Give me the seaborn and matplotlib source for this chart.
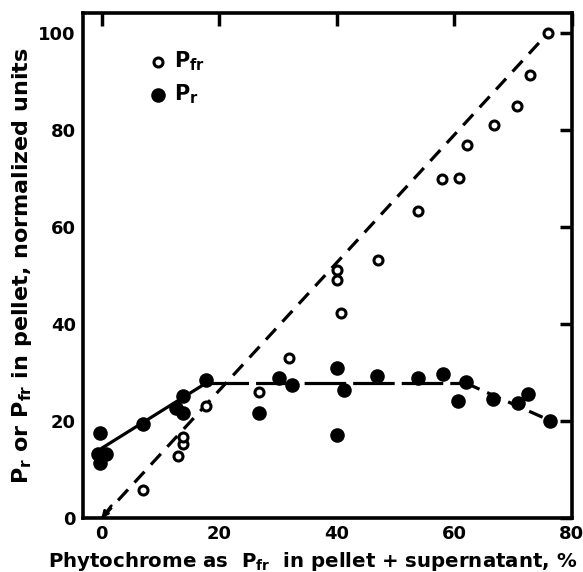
import matplotlib
matplotlib.use("Agg")
import matplotlib.pyplot as plt
import seaborn as sns
import pandas as pd

# ---- data ----
pfr_x = [7.1, 13.0, 13.9, 13.9, 17.8, 26.8, 31.8, 40.1, 40.1, 40.8, 47.0, 53.8,
         57.9, 60.8, 62.1, 66.8, 70.6, 72.9, 76.0]
pfr_y = [5.8, 12.8, 15.3, 16.8, 23.1, 26.0, 32.9, 51.1, 49.1, 42.3, 53.2, 63.2,
         69.9, 70.0, 76.9, 81.0, 84.9, 91.3, 100.0]

pr_x = [-0.3, -0.6, 0.8, -0.2, 7.1, 12.7, 13.9, 13.9, 17.7, 26.8, 30.2, 32.4,
        40.1, 41.2, 40.1, 46.9, 53.9, 58.0, 60.7, 62.0, 66.6, 70.9, 72.6, 76.3]
pr_y = [17.5, 13.3, 13.3, 11.3, 19.4, 22.6, 21.6, 25.2, 28.4, 21.6, 28.8, 27.4,
        31.0, 26.4, 17.1, 29.3, 28.8, 29.7, 24.1, 28.1, 24.5, 23.8, 25.6, 20.1]

# fitted lines
pfr_fit_x = [0, 76.0]
pfr_fit_y = [0, 100.0]
pr_rise_x = [0, 18.0]
pr_rise_y = [14.4, 28.0]
pr_flat_x = [18.0, 62.0]
pr_flat_y = [27.8, 27.8]
pr_fall_x = [62.0, 76.3]
pr_fall_y = [27.8, 20.1]

x_ticks = [0, 20, 40, 60, 80]
y_ticks = [0, 20, 40, 60, 80, 100]

# ---- styling ----
sns.set_style("white")
plt.rcParams['font.family'] = ['DejaVu Sans']
plt.rcParams['font.weight'] = 'bold'
plt.rcParams['mathtext.fontset'] = 'dejavusans'
plt.rcParams['mathtext.default'] = 'bf'
plt.rcParams['text.color'] = 'black'
plt.rcParams['axes.labelcolor'] = 'black'
plt.rcParams['xtick.color'] = 'black'
plt.rcParams['ytick.color'] = 'black'

fig = plt.figure(figsize=(5.83, 5.72), dpi=100)
ax = fig.add_axes([0.142, 0.094, 0.839, 0.883])

df_pfr = pd.DataFrame({"x": pfr_x, "y": pfr_y})
df_pr = pd.DataFrame({"x": pr_x, "y": pr_y})

# lines
sns.lineplot(x=pfr_fit_x, y=pfr_fit_y, ax=ax, color="black", lw=2.3,
             linestyle=(0, (4.6, 3.0)), legend=False, zorder=1)
sns.lineplot(x=pr_rise_x, y=pr_rise_y, ax=ax, color="black", lw=2.3,
             legend=False, zorder=1)
sns.lineplot(x=pr_flat_x, y=pr_flat_y, ax=ax, color="black", lw=2.3,
             linestyle=(0, (13, 2.2)), legend=False, zorder=1)
sns.lineplot(x=pr_fall_x, y=pr_fall_y, ax=ax, color="black", lw=2.3,
             linestyle=(0, (4.6, 2.6)), legend=False, zorder=1)

# arrow at origin end of the Pfr line
ax.annotate("", xy=(pfr_fit_x[0], pfr_fit_y[0]), xytext=(7, 9),
            textcoords="offset points",
            arrowprops=dict(arrowstyle="-|>", color="black", lw=2.0,
                            mutation_scale=9, shrinkA=0, shrinkB=0))

# points
sns.scatterplot(data=df_pfr, x="x", y="y", ax=ax, s=42, marker="o",
                facecolor="white", edgecolor="black", linewidth=2.2,
                label=r"$P_{fr}$", zorder=3)
sns.scatterplot(data=df_pr, x="x", y="y", ax=ax, s=110, marker="o",
                color="black", edgecolor="black", linewidth=0,
                label=r"$P_{r}$", zorder=3)

ax.set_xlim(-3.2, 80)
ax.set_ylim(0, 104)
ax.set_xticks(x_ticks)
ax.set_yticks(y_ticks)
ax.set_xticklabels([str(t) for t in x_ticks], fontsize=13, fontweight='bold')
ax.set_yticklabels([str(t) for t in y_ticks], fontsize=13, fontweight='bold')
ax.tick_params(direction="in", length=9, width=2.5, top=True, right=True,
               pad=5, colors="black")
for sp in ax.spines.values():
    sp.set_linewidth(2.6)
    sp.set_color("black")

ax.set_xlabel(r"Phytochrome as  $P_{fr}$  in pellet + supernatant, %",
              fontsize=14.2, fontweight='bold')
ax.xaxis.set_label_coords(0.469, -0.063)
ax.set_ylabel(r"$P_{r}$ or $P_{fr}$ in pellet, normalized units",
              fontsize=16, fontweight='bold')
ax.yaxis.set_label_coords(-0.1, 0.5)

leg = ax.legend(loc="upper left", bbox_to_anchor=(0.115, 0.945), frameon=False,
                fontsize=15, handletextpad=0.3, labelspacing=0.45,
                borderaxespad=0, handlelength=1.0)

fig.savefig("out.png", dpi=100)
